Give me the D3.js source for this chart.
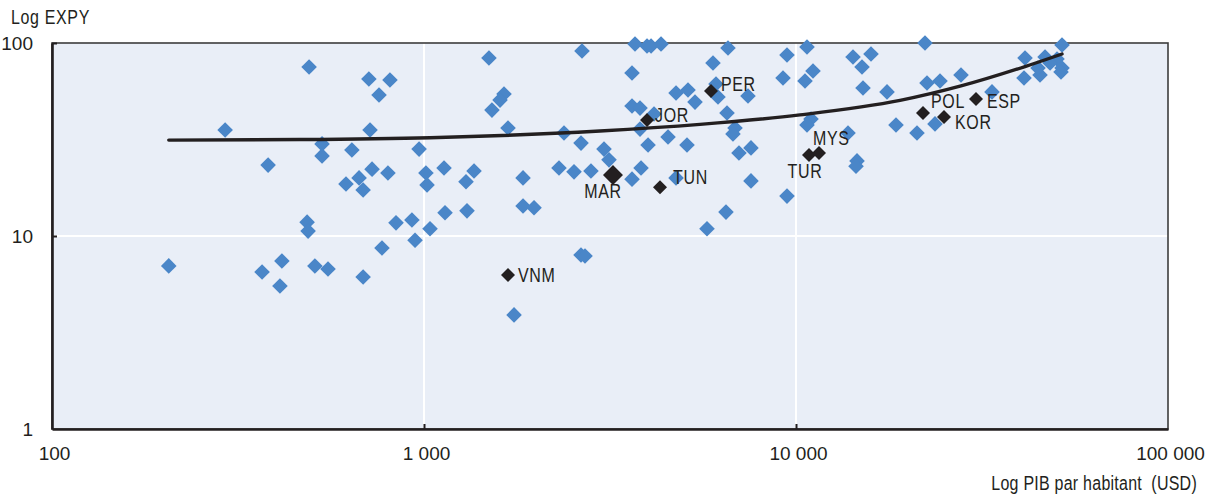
<!DOCTYPE html>
<html>
<head>
<meta charset="utf-8">
<script src="https://cdn.jsdelivr.net/npm/d3@7"></script>
<style>
  html, body { margin: 0; padding: 0; background: #ffffff; }
  svg { display: block; }
  text { white-space: pre; }
</style>
</head>
<body>
<svg id="chart" width="1205" height="496"></svg>
<script>
// ---------------- DATA ----------------
// Blue points: GDP per capita (USD) and EXPY index
const blueGdp = [206, 292, 381, 491, 711, 810, 757, 716, 532, 532, 640, 970, 725, 800, 617, 669, 686, 1012, 1019, 485,
  488, 841, 928, 1038, 1139, 1305, 1846, 1976, 946, 771, 367, 415, 410, 509, 552, 686, 1746, 2643, 2709, 1495,
  2659, 3692, 3977, 4077, 4337, 3624, 1641, 1601, 1523, 1682, 1132, 1363, 1297, 1846, 2379, 2643, 3047, 3143, 2306, 2531,
  2811, 3624, 3832, 6564, 9458, 10705, 5982, 9228, 10573, 11110, 4759, 5125, 6094, 6170, 5352, 7429, 3624, 3808, 4153, 3808,
  6524, 6855, 6770, 4529, 4002, 5093, 7026, 7568, 4759, 7568, 9458, 6483, 5764, 10973, 10705, 14232, 15909, 15048, 15141, 17565,
  22220, 22497, 24384, 27770, 33643, 18571, 21146, 23641, 13798, 14589, 14499, 41271, 41016, 45288, 46715, 51893, 50313, 51893, 48185, 44733,
  51574];
const blueExpy = [7.0, 35.4, 23.3, 75.1, 65.1, 64.3, 53.8, 35.4, 30.0, 26.0, 27.9, 28.2, 22.2, 21.2, 18.6, 20.0, 17.3, 21.2, 18.4, 11.8,
  10.6, 11.7, 12.1, 10.9, 13.2, 13.5, 14.3, 14.0, 9.5, 8.67, 6.51, 7.42, 5.51, 6.99, 6.75, 6.13, 3.90, 7.97, 7.88, 83.6,
  90.9, 98.8, 96.5, 96.5, 98.8, 69.9, 54.4, 50.6, 44.9, 36.3, 22.5, 21.7, 19.1, 20.0, 34.2, 30.3, 28.2, 24.8, 22.5, 21.5,
  21.7, 19.7, 22.5, 94.2, 86.7, 95.3, 78.8, 65.9, 63.6, 71.6, 55.1, 57.1, 61.3, 52.5, 49.4, 53.1, 47.2, 46.0, 42.9, 35.8,
  43.4, 36.3, 33.8, 32.6, 29.6, 29.6, 26.9, 28.6, 20.0, 19.3, 16.1, 13.3, 10.9, 40.4, 37.6, 84.6, 87.7, 75.1, 58.5, 55.8,
  100, 62.1, 63.6, 68.3, 55.8, 37.6, 34.2, 38.1, 34.2, 24.5, 23.0, 83.6, 65.9, 68.3, 84.6, 97.6, 82.6, 74.2, 78.8, 74.2,
  70.7];

// Highlighted countries
const hlCodes = ["VNM", "MAR", "JOR", "PER", "TUN", "TUR", "MYS", "POL", "KOR", "ESP"];
const hlGdp   = [1682, 3221, 3977, 5908, 4310, 10838, 11530, 21946, 24995, 30465];
const hlExpy  = [6.28, 20.7, 39.9, 56.4, 17.9, 26.3, 26.9, 43.4, 41.4, 51.3];

// Fitted trend curve
const trendGdp  = [206, 464, 1038, 2972, 5520, 10250, 19040, 27770, 41271, 51893];
const trendExpy = [31.4, 31.6, 32.3, 35.0, 37.9, 42.4, 50.4, 59.9, 75.5, 87.7];

// Axes
const xTicks = [100, 1000, 10000, 100000];
const xTickLabels = ["100", "1 000", "10 000", "100 000"];
const yTicks = [1, 10, 100];
const yTickLabels = ["1", "10", "100"];
const yTitle = "Log EXPY";
const xTitle = "Log PIB par habitant  (USD)";

// ---------------- STYLE / LAYOUT ----------------
const W = 1205, H = 496;
const M = { left: 52, right: 1168, top: 43, bottom: 429 };
const C = { bg: "#e9eef7", blue: "#4a86c8", dark: "#231f20", text: "#231f20", grid: "#ffffff" };
// label placement relative to the marker: dx, dy (baseline), anchor
const labelPos = {
  VNM: [10, 7, "start"], MAR: [-10, 23, "middle"], JOR: [8, 2, "start"], PER: [10, 0, "start"],
  TUN: [13, -3, "start"], TUR: [-4, 23, "middle"], MYS: [-6, -8, "start"], POL: [8, -5, "start"],
  KOR: [11, 12, "start"], ESP: [11, 9, "start"]
};
const markerR = { blue: 7.8, dark: 7, MAR: 10 };

function hasFont(name) {
  const c = document.createElement("canvas").getContext("2d");
  const s = "abcdefghijklmnopqrstuvwxyz";
  c.font = "40px monospace"; const w1 = c.measureText(s).width;
  c.font = `40px "${name}", monospace`; const w2 = c.measureText(s).width;
  return Math.abs(w1 - w2) > 0.5;
}
const narrow = hasFont("Liberation Sans Narrow");
const FONT = narrow ? '"Liberation Sans Narrow", "Arial Narrow", sans-serif' : '"Liberation Sans", Arial, sans-serif';
const FS = 19;
const squeeze = narrow ? 1 : 0.82;

// ---------------- DRAW ----------------
const svg = d3.select("#chart");
const x = d3.scaleLog().domain([100, 100000]).range([M.left, M.right]);
const y = d3.scaleLog().domain([1, 100]).range([M.bottom, M.top]);

svg.append("rect").attr("x", M.left).attr("y", M.top)
  .attr("width", M.right - M.left).attr("height", M.bottom - M.top)
  .attr("fill", C.bg);

// gridlines
svg.append("g").selectAll("line").data([10]).join("line")
  .attr("x1", M.left).attr("x2", M.right).attr("y1", d => y(d)).attr("y2", d => y(d))
  .attr("stroke", C.grid).attr("stroke-width", 2);
svg.append("g").selectAll("line").data([1000, 10000]).join("line")
  .attr("y1", M.top).attr("y2", M.bottom).attr("x1", d => x(d)).attr("x2", d => x(d))
  .attr("stroke", C.grid).attr("stroke-width", 2);

// frame (top/right)
svg.append("rect").attr("x", M.left).attr("y", M.top)
  .attr("width", M.right - M.left).attr("height", M.bottom - M.top)
  .attr("fill", "none").attr("stroke", "#3c3c3c").attr("stroke-width", 1.6);

const diamond = r => `M0,${-r}L${r},0L0,${r}L${-r},0Z`;

// blue points
const blue = blueGdp.map((g, i) => ({ g, e: blueExpy[i] }));
svg.append("g").selectAll("path").data(blue).join("path")
  .attr("d", diamond(markerR.blue))
  .attr("transform", d => `translate(${x(d.g)},${y(d.e)})`)
  .attr("fill", C.blue);

// trend
const trend = trendGdp.map((g, i) => ({ g, e: trendExpy[i] }));
svg.append("path").datum(trend)
  .attr("d", d3.line().x(d => x(d.g)).y(d => y(d.e)).curve(d3.curveMonotoneX))
  .attr("fill", "none").attr("stroke", C.dark).attr("stroke-width", 3.4)
  .attr("stroke-linecap", "round");

// highlighted points
const hl = hlCodes.map((c, i) => ({ c, g: hlGdp[i], e: hlExpy[i] }));
svg.append("g").selectAll("path").data(hl).join("path")
  .attr("d", d => diamond(markerR[d.c] || markerR.dark))
  .attr("transform", d => `translate(${x(d.g)},${y(d.e)})`)
  .attr("fill", C.dark);

function addText(sel, fs, ls) {
  sel.attr("font-family", FONT).attr("font-size", fs || FS).attr("fill", C.text)
     .attr("letter-spacing", ls || 0);
  if (squeeze !== 1) {
    sel.each(function () {
      const t = d3.select(this);
      const tx = +t.attr("x") || 0, ty = +t.attr("y") || 0;
      t.attr("transform", `translate(${tx},${ty}) scale(${squeeze},1) translate(${-tx},${-ty})`);
    });
  }
  return sel;
}

svg.append("g").selectAll("text").data(hl).join("text")
  .attr("x", d => x(d.g) + labelPos[d.c][0])
  .attr("y", d => y(d.e) + labelPos[d.c][1])
  .attr("text-anchor", d => labelPos[d.c][2])
  .text(d => d.c)
  .call(addText, 19.5, 0.8);

// axes
const yAxis = d3.axisLeft(y).tickValues(yTicks).tickFormat((d, i) => yTickLabels[i])
  .tickSizeInner(-5).tickSizeOuter(0).tickPadding(19);
const gy = svg.append("g").attr("transform", `translate(${M.left},0)`).call(yAxis);
const xAxis = d3.axisBottom(x).tickValues(xTicks).tickFormat((d, i) => xTickLabels[i])
  .tickSizeInner(-5).tickSizeOuter(0).tickPadding(17.5);
const gx = svg.append("g").attr("transform", `translate(0,${M.bottom})`).call(xAxis);

[gx, gy].forEach(g => {
  g.select(".domain").attr("stroke", C.dark).attr("stroke-width", 2.6);
  g.selectAll(".tick line").attr("stroke", C.dark).attr("stroke-width", 2);
  g.attr("font-family", null).attr("font-size", null);
  g.selectAll(".tick text").attr("font-family", FONT).attr("font-size", FS).attr("fill", C.text);
});
gx.selectAll(".tick text").attr("dx", 2);
gx.selectAll(".tick").filter(d => d === 100 || d === 100000).select("line").remove();
gy.selectAll(".tick").filter(d => d === 1).select("line").remove();
gy.selectAll(".tick text").attr("dy", "0.34em");

svg.append("text").attr("x", 11).attr("y", 24).text(yTitle).call(addText, 19.5, 0.8);
svg.append("text").attr("x", 1197).attr("y", 490).attr("text-anchor", "end").text(xTitle).call(addText, 19.5, 0.3);
</script>
</body>
</html>
